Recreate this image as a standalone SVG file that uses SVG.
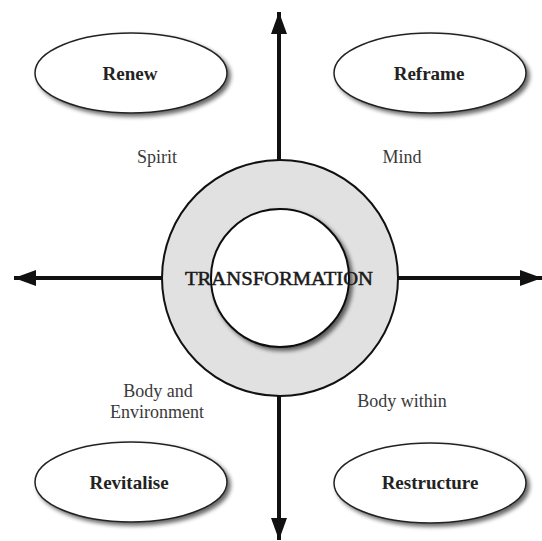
<svg xmlns="http://www.w3.org/2000/svg" width="542" height="541" viewBox="0 0 542 541">
  <defs>
    <filter id="shadow" x="-20%" y="-20%" width="150%" height="150%">
      <feGaussianBlur in="SourceAlpha" stdDeviation="2.2"/>
      <feOffset dx="3" dy="3" result="b"/>
      <feComponentTransfer><feFuncA type="linear" slope="0.6"/></feComponentTransfer>
      <feMerge><feMergeNode/><feMergeNode in="SourceGraphic"/></feMerge>
    </filter>
    <marker id="head" markerWidth="22" markerHeight="16" refX="22" refY="8" orient="auto" markerUnits="userSpaceOnUse">
      <path d="M0,0 L22,8 L0,16 Z" fill="#111"/>
    </marker>
  </defs>
  <style>
    .bubble { fill: #fff; stroke: #222; stroke-width: 1.5; }
    .name { font-family: "Liberation Serif", "Times New Roman", serif; font-weight: bold; font-size: 19px; fill: #222; text-anchor: middle; }
    .area { font-family: "Liberation Serif", "Times New Roman", serif; font-size: 18px; fill: #3a3a3a; text-anchor: middle; }
    .axis { stroke: #111; stroke-width: 4; fill: none; marker-end: url(#head); }
  </style>
  <rect width="542" height="541" fill="#fff"/>

  <!-- axes -->
  <g id="connectors">
    <line class="axis" x1="279" y1="162" x2="279" y2="12"/>
    <line class="axis" x1="279" y1="394" x2="279" y2="540"/>
    <line class="axis" x1="164" y1="278" x2="14" y2="278"/>
    <line class="axis" x1="396" y1="278" x2="542" y2="278"/>
  </g>

  <!-- central ring -->
  <g id="transformation">
    <circle cx="280" cy="278" r="118" fill="#e1e1e1" stroke="#111" stroke-width="2"/>
    <circle cx="280" cy="278" r="69" fill="#fff" stroke="#111" stroke-width="2" filter="url(#shadow)"/>
    <text x="279" y="285" font-family="Liberation Serif, Times New Roman, serif" font-size="19" fill="#1a1a1a" text-anchor="middle" textLength="188" lengthAdjust="spacingAndGlyphs" stroke="#1a1a1a" stroke-width="0.5">TRANSFORMATION</text>
  </g>

  <g id="renew">
    <ellipse class="bubble" cx="131" cy="73" rx="96" ry="40" filter="url(#shadow)"/>
    <text class="name" x="130" y="80">Renew</text>
  </g>
  <g id="reframe">
    <ellipse class="bubble" cx="430" cy="73" rx="96" ry="40" filter="url(#shadow)"/>
    <text class="name" x="429" y="80">Reframe</text>
  </g>
  <g id="revitalise">
    <ellipse class="bubble" cx="131" cy="482" rx="96" ry="40" filter="url(#shadow)"/>
    <text class="name" x="129" y="489">Revitalise</text>
  </g>
  <g id="restructure">
    <ellipse class="bubble" cx="430" cy="483" rx="96" ry="40" filter="url(#shadow)"/>
    <text class="name" x="430" y="489">Restructure</text>
  </g>

  <!-- quadrant labels -->
  <g id="labels">
    <text class="area" x="157" y="163">Spirit</text>
    <text class="area" x="402" y="163">Mind</text>
    <text class="area" x="158" y="397">Body and</text>
    <text class="area" x="157" y="418">Environment</text>
    <text class="area" x="402" y="407">Body within</text>
  </g>
</svg>
